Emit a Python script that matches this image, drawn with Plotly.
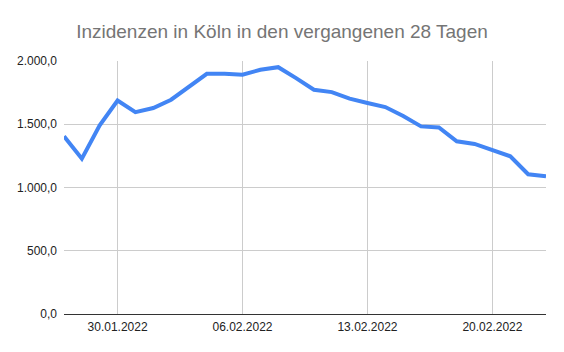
import plotly.graph_objects as go

dates = ["2022-01-27", "2022-01-28", "2022-01-29", "2022-01-30", "2022-01-31",
         "2022-02-01", "2022-02-02", "2022-02-03", "2022-02-04", "2022-02-05",
         "2022-02-06", "2022-02-07", "2022-02-08", "2022-02-09", "2022-02-10",
         "2022-02-11", "2022-02-12", "2022-02-13", "2022-02-14", "2022-02-15",
         "2022-02-16", "2022-02-17", "2022-02-18", "2022-02-19", "2022-02-20",
         "2022-02-21", "2022-02-22", "2022-02-23"]
values = [1405, 1228, 1491, 1688, 1596, 1628, 1694, 1793, 1899, 1899,
          1891, 1931, 1951, 1865, 1773, 1754, 1702, 1668, 1636, 1565,
          1483, 1475, 1365, 1344, 1294, 1247, 1105, 1089]
x_ticks = ["2022-01-30", "2022-02-06", "2022-02-13", "2022-02-20"]
y_ticks = [0, 500, 1000, 1500, 2000]

fig = go.Figure()
fig.add_trace(go.Scatter(x=dates, y=values, mode="lines",
                         line=dict(color="#4285F4", width=4),
                         hoverinfo="skip"))

fig.update_layout(
    width=564, height=352,
    margin=dict(l=64, r=18, t=61, b=38),
    paper_bgcolor="white", plot_bgcolor="white",
    separators=",.",
    showlegend=False,
    title=dict(text="Inzidenzen in Köln in den vergangenen 28 Tagen",
               x=0.5, xanchor="center", y=0.91, yanchor="middle",
               font=dict(family="Liberation Sans, Arial", size=19, color="#757575")),
    font=dict(family="Liberation Sans, Arial", size=12, color="#222222"),
)
fig.update_xaxes(range=["2022-01-27", "2022-02-23"], tickvals=x_ticks,
                 tickformat="%d.%m.%Y", showgrid=True, gridcolor="#cccccc",
                 gridwidth=1, showline=False, zeroline=False, ticks="",
                 ticklabelstandoff=4)
fig.update_yaxes(range=[0, 2000], tickvals=y_ticks, tickformat=",.1f",
                 showgrid=True, gridcolor="#cccccc", gridwidth=1,
                 zeroline=True, zerolinecolor="#333333", zerolinewidth=1,
                 showline=False, ticks="", ticklabelstandoff=6)

fig.write_html("out.html")
